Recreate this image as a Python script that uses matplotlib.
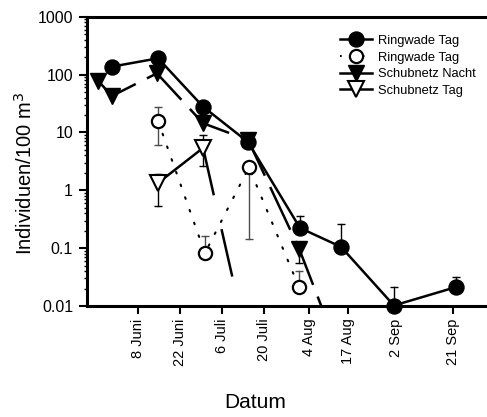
import numpy as np
import matplotlib
matplotlib.use('Agg')
import matplotlib.pyplot as plt
from matplotlib.lines import Line2D
from matplotlib.ticker import LogLocator, NullFormatter

plt.rcParams['font.family'] = ['Liberation Sans', 'DejaVu Sans']
plt.rcParams['lines.scale_dashes'] = False

nan = np.nan

# x axis: day of year
tick_days = [159, 173, 187, 201, 216, 229, 245, 264]
tick_labels = ['8 Juni', '22 Juni', '6 Juli', '20 Juli', '4 Aug', '17 Aug', '2 Sep', '21 Sep']

y_ticks = [0.01, 0.1, 1, 10, 100, 1000]
y_tick_labels = ['0.01', '0.1', '1', '10', '100', '1000']

# Ringwade Tag (filled circles)
rw_fill_days = [150.2, 165.6, 180.6, 195.6, 212.9, 226.6, 244.2, 265.0]
rw_fill_vals = [137, 191, 27.8, 6.8, 0.223, 0.105, 0.0102, 0.0213]
rw_fill_hi = [nan, nan, nan, nan, 0.36, 0.26, 0.021, 0.032]
rw_fill_lo = [nan, nan, nan, nan, nan, nan, nan, nan]

# Ringwade Tag (open circles)
rw_open_days = [165.6, 181.2, 195.9, 212.6]
rw_open_vals = [15.7, 0.082, 2.5, 0.021]
rw_open_hi = [27, 0.16, nan, 0.041]
rw_open_lo = [6.1, nan, 0.145, nan]

# Schubnetz Nacht (filled triangles)
sn_nacht_days = [145.6, 150.2, 165.2, 180.6, 195.6, 212.6, 226.6]
sn_nacht_vals = [78, 42.6, 105, 14.4, 7.4, 0.098, 0.0013]
sn_nacht_hi = [nan, nan, nan, nan, nan, nan, nan]
sn_nacht_lo = [nan, nan, nan, nan, nan, 0.055, nan]

# Schubnetz Tag (open triangles)
sn_tag_days = [165.6, 180.6, 195.6]
sn_tag_vals = [1.34, 5.4, 0.002]
sn_tag_hi = [1.9, 9.1, nan]
sn_tag_lo = [0.53, 2.6, nan]

legend_labels = ['Ringwade Tag', 'Ringwade Tag', 'Schubnetz Nacht', 'Schubnetz Tag']

W, H = 487, 417
fig = plt.figure(figsize=(W / 100, H / 100), dpi=100)
ax = fig.add_axes([87 / W, 1 - 306 / H, 400 / W, (306 - 16.7) / H])

LW = 1.8


def draw_err(days, vals, lo, hi, color):
    for d, v, l, h in zip(days, vals, lo, hi):
        for b in (l, h):
            if not np.isnan(b):
                ax.plot([d, d], [v, b], color=color, lw=1.0, zorder=2, clip_on=False)
                ax.plot([d], [b], marker='_', ms=6, mew=1.0, color=color, zorder=2, clip_on=False)


draw_err(rw_fill_days, rw_fill_vals, rw_fill_lo, rw_fill_hi, 'black')
draw_err(rw_open_days, rw_open_vals, rw_open_lo, rw_open_hi, '0.3')
draw_err(sn_nacht_days, sn_nacht_vals, sn_nacht_lo, sn_nacht_hi, 'black')
draw_err(sn_tag_days, sn_tag_vals, sn_tag_lo, sn_tag_hi, 'black')

# lines
ax.plot(rw_open_days, rw_open_vals, color='black', lw=1.5, ls=(0, (1.2, 8.5)),
        dash_capstyle='round', zorder=3)
ax.plot(sn_nacht_days, sn_nacht_vals, color='black', lw=LW, dashes=(34, 9), zorder=3)
ax.plot(sn_tag_days[:2], sn_tag_vals[:2], color='black', lw=LW, zorder=3)
ax.plot(sn_tag_days[1:], sn_tag_vals[1:], color='black', lw=LW, dashes=(35, 25), zorder=3)
ax.plot(rw_fill_days, rw_fill_vals, color='black', lw=LW, zorder=3)

# markers
ax.plot(rw_open_days, rw_open_vals, ls='none', marker='o', ms=9.5, mfc='white',
        mec='black', mew=1.6, zorder=4)
ax.plot(sn_tag_days[:2], sn_tag_vals[:2], ls='none', marker='v', ms=11.5, mfc='white',
        mec='black', mew=1.5, zorder=4)
ax.plot(sn_nacht_days, sn_nacht_vals, ls='none', marker='v', ms=11, mfc='black',
        mec='black', zorder=5)
ax.plot(rw_fill_days, rw_fill_vals, ls='none', marker='o', ms=10.8, mfc='black',
        mec='black', zorder=5, clip_on=False)

ax.set_yscale('log')
ax.set_ylim(0.01, 1000)
ax.set_xlim(159 + (87 - 138.3) / 3, 159 + (487 - 138.3) / 3)

ax.set_yticks(y_ticks)
ax.set_yticklabels(y_tick_labels)
ax.yaxis.set_minor_locator(LogLocator(base=10, subs=np.arange(2, 10)))
ax.yaxis.set_minor_formatter(NullFormatter())
ax.set_xticks(tick_days)
ax.set_xticklabels(tick_labels, rotation=90)

ax.tick_params(axis='y', which='major', direction='out', length=6, width=1.5,
               labelsize=11.5, pad=4)
ax.tick_params(axis='y', which='minor', direction='out', length=2.5, width=1.0)
ax.tick_params(axis='x', which='major', direction='out', length=6, width=1.5,
               labelsize=10.5, pad=3)
ax.tick_params(axis='x', which='minor', bottom=False)

for s in ('left', 'bottom', 'top'):
    ax.spines[s].set_linewidth(2.2)
ax.spines['right'].set_visible(False)

ax.set_ylabel('Individuen/100 m$^3$', fontsize=14.5)
ax.yaxis.set_label_coords(-0.128, 0.458)
ax.set_xlabel('Datum', fontsize=15)
ax.xaxis.set_label_coords(0.42, -0.3)

handles = [
    Line2D([], [], color='black', lw=LW, marker='o', ms=10.8, mfc='black'),
    Line2D([], [], color='black', lw=1.5, ls=(0, (1.2, 7)), marker='o', ms=9.5,
           mfc='white', mew=1.6),
    Line2D([], [], color='black', lw=LW, marker='v', ms=11, mfc='black'),
    Line2D([], [], color='black', lw=LW, marker='v', ms=11.5, mfc='white', mew=1.5),
]
ax.legend(handles, legend_labels, loc='upper left', bbox_to_anchor=(0.6325, 0.937),
          frameon=False, fontsize=9.3, handlelength=2.5, handletextpad=0.45,
          labelspacing=0.35, borderpad=0, borderaxespad=0)

fig.savefig('out.png', dpi=100)
